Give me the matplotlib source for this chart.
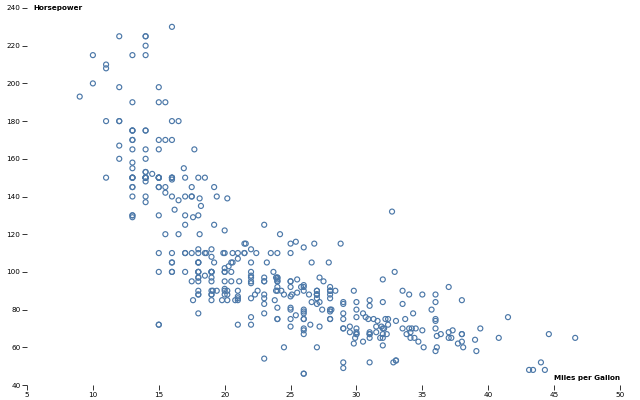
"""Cars scatter: Miles per Gallon vs Horsepower, saved to out.png."""

import matplotlib

matplotlib.use("Agg")
import matplotlib.pyplot as plt

# (miles per gallon, horsepower)
MPG = [
    18, 15, 18, 16, 17, 15, 14, 14, 14, 15, 15, 14, 15, 14, 24, 22, 18, 21, 27, 26,
    25, 24, 25, 26, 21, 10, 10, 11, 9, 27, 28, 25, 19, 16, 17, 19, 18, 14, 14, 14,
    14, 12, 13, 13, 18, 22, 19, 18, 23, 28, 30, 30, 31, 35, 27, 26, 24, 25, 23, 20,
    21, 13, 14, 15, 14, 17, 11, 13, 12, 13, 19, 15, 13, 13, 14, 18, 22, 21, 26, 22,
    28, 23, 28, 27, 13, 14, 13, 14, 15, 12, 13, 13, 14, 13, 12, 13, 18, 16, 18, 18,
    23, 26, 11, 12, 13, 12, 18, 20, 21, 22, 18, 19, 21, 26, 15, 16, 29, 24, 20, 19,
    15, 24, 20, 11, 20, 19, 15, 31, 26, 32, 25, 16, 16, 18, 16, 13, 14, 14, 14, 29,
    26, 26, 31, 32, 28, 24, 26, 24, 26, 31, 19, 18, 15, 15, 16, 15, 16, 14, 17, 16,
    15, 18, 21, 20, 13, 29, 23, 20, 23, 24, 25, 24, 18, 29, 19, 23, 23, 22, 25, 33,
    28, 25, 25, 26, 27, 17.5, 16, 15.5, 14.5, 22, 22, 24, 22.5, 29, 24.5, 29, 33, 20, 18, 18.5,
    17.5, 29.5, 32, 28, 26.5, 20, 13, 19, 19, 16.5, 16.5, 13, 13, 13, 31.5, 30, 36, 25.5, 33.5, 17.5,
    17, 15.5, 15, 17.5, 20.5, 19, 18.5, 16, 15.5, 15.5, 16, 29, 24.5, 26, 25.5, 30.5, 33.5, 30, 30.5, 22,
    21.5, 21.5, 43.1, 36.1, 32.8, 39.4, 36.1, 19.9, 19.4, 20.2, 19.2, 20.5, 20.2, 25.1, 20.5, 19.4, 20.6, 20.8, 18.6, 18.1,
    19.2, 17.7, 18.1, 17.5, 30, 27.5, 27.2, 30.9, 21.1, 23.2, 23.8, 23.9, 20.3, 17, 21.6, 16.2, 31.5, 29.5, 21.5, 19.8,
    22.3, 20.2, 20.6, 17, 17.6, 16.5, 18.2, 16.9, 15.5, 19.2, 18.5, 31.9, 34.1, 35.7, 27.4, 25.4, 23, 27.2, 23.9, 34.2,
    34.5, 31.8, 37.3, 28.4, 28.8, 26.8, 33.5, 41.5, 38.1, 32.1, 37.2, 28, 26.4, 24.3, 19.1, 34.3, 29.8, 31.3, 37, 32.2,
    46.6, 27.9, 40.8, 44.3, 43.4, 36.4, 30, 44.6, 33.8, 29.8, 32.7, 23.7, 35, 32.4, 27.2, 26.6, 25.8, 23.5, 30, 39.1,
    39, 35.1, 32.3, 37, 37.7, 34.1, 34.7, 34.4, 29.9, 33, 33.7, 32.4, 32.9, 31.6, 28.1, 30.7, 25.4, 24.2, 22.4, 26.6,
    20.2, 17.6, 28, 27, 34, 31, 29, 27, 24, 36, 37, 31, 38, 36, 36, 36, 34, 38, 32, 38,
    25, 38, 26, 22, 32, 36, 27, 27, 44, 32, 28, 31,
]
HORSEPOWER = [
    130, 165, 150, 150, 140, 198, 220, 215, 225, 190, 170, 160, 150, 225, 95, 95, 97, 85, 88, 46,
    87, 90, 95, 113, 90, 215, 200, 210, 193, 88, 90, 95, 100, 105, 100, 88, 100, 165, 175, 153,
    150, 180, 170, 175, 110, 72, 100, 88, 86, 90, 70, 76, 65, 69, 60, 70, 95, 80, 54, 90,
    86, 165, 175, 150, 153, 150, 208, 155, 160, 190, 97, 150, 130, 140, 150, 112, 76, 87, 69, 86,
    92, 97, 80, 88, 175, 150, 145, 137, 150, 198, 150, 158, 150, 215, 225, 175, 105, 100, 100, 88,
    95, 46, 150, 167, 170, 180, 100, 88, 72, 94, 90, 85, 107, 90, 145, 230, 49, 75, 91, 112,
    150, 110, 122, 180, 95, 100, 100, 67, 80, 65, 75, 100, 110, 105, 140, 150, 150, 140, 150, 83,
    67, 78, 52, 61, 75, 75, 75, 97, 93, 67, 95, 105, 72, 72, 170, 145, 150, 148, 110, 105,
    110, 95, 110, 110, 129, 75, 83, 100, 78, 96, 71, 97, 97, 70, 90, 95, 88, 98, 115, 53,
    86, 81, 92, 79, 83, 140, 150, 120, 152, 100, 105, 81, 90, 52, 60, 70, 53, 100, 78, 110,
    95, 71, 70, 75, 72, 102, 150, 88, 108, 120, 180, 145, 130, 150, 68, 80, 58, 96, 70, 145,
    110, 145, 130, 110, 105, 100, 98, 180, 170, 190, 149, 78, 88, 75, 89, 63, 83, 67, 78, 97,
    110, 110, 48, 66, 52, 70, 60, 110, 140, 139, 105, 95, 85, 88, 100, 90, 105, 85, 110, 120,
    145, 165, 139, 140, 68, 95, 97, 75, 95, 105, 85, 97, 103, 125, 115, 133, 71, 68, 115, 85,
    88, 90, 110, 130, 129, 138, 135, 155, 142, 125, 150, 71, 65, 80, 80, 77, 125, 71, 90, 70,
    70, 65, 69, 90, 115, 115, 90, 76, 60, 70, 65, 90, 88, 90, 90, 78, 90, 75, 92, 75,
    65, 105, 65, 48, 48, 67, 67, 67, 67, 62, 132, 100, 88, 72, 84, 84, 92, 110, 84, 58,
    64, 60, 67, 65, 62, 68, 63, 65, 65, 74, 75, 75, 100, 74, 80, 76, 116, 120, 110, 105,
    88, 85, 88, 88, 88, 85, 84, 90, 92, 74, 68, 68, 63, 70, 88, 75, 70, 67, 67, 67,
    110, 85, 92, 112, 96, 84, 90, 86, 52, 84, 79, 82,
]

POINT_COLOR = "#4c78a8"
TEXT_COLOR = "#000000"


def main() -> int:
    fig = plt.figure(figsize=(6.4, 4.0), dpi=100)
    ax = fig.add_axes([27 / 640, 15 / 400, 593 / 640, 377 / 400])

    ax.scatter(
        MPG,
        HORSEPOWER,
        s=13,
        facecolors="none",
        edgecolors=POINT_COLOR,
        linewidths=0.85,
        clip_on=False,
    )

    ax.set_xlim(5, 50)
    ax.set_ylim(40, 240)
    ax.set_xticks(range(5, 51, 5))
    ax.set_yticks(range(40, 241, 20))
    for side in ("top", "right", "bottom", "left"):
        ax.spines[side].set_visible(False)
    ax.tick_params(axis="both", length=3.5, width=0.7, color="#333333",
                   labelsize=5.2, labelcolor=TEXT_COLOR, pad=1.2)

    ax.text(6 / 593, 1.0, "Horsepower", transform=ax.transAxes, ha="left", va="center",
            fontsize=5.2, fontweight="bold", color=TEXT_COLOR)
    ax.text(1.0, 4 / 377, "Miles per Gallon", transform=ax.transAxes, ha="right",
            va="bottom", fontsize=5.2, fontweight="bold", color=TEXT_COLOR)

    fig.savefig("out.png", dpi=100)
    plt.close(fig)
    return 0


if __name__ == "__main__":
    raise SystemExit(main())
